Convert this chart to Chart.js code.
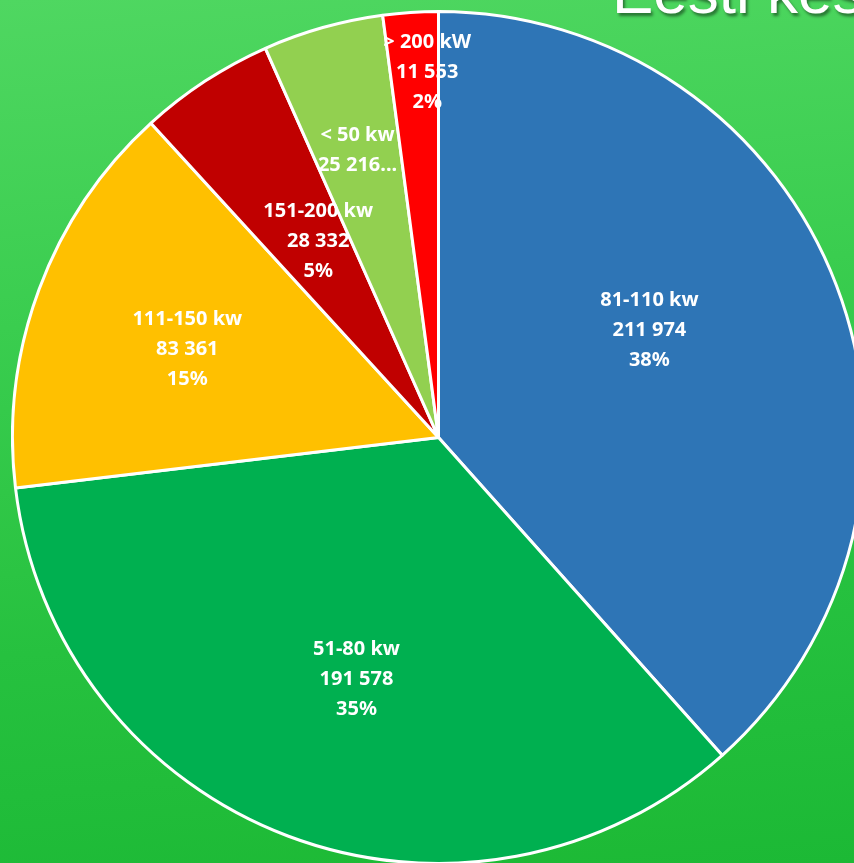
<!DOCTYPE html>
<html lang="et">
<head>
  <meta charset="UTF-8">
  <title>Võimsusklassid</title>
  <script src="https://cdn.jsdelivr.net/npm/chart.js@4"></script>
  <style>
    html, body { margin: 0; padding: 0; }
    body {
      width: 854px; height: 863px; overflow: hidden; position: relative;
      background: linear-gradient(175deg, #4fd761 0%, #3acd4f 35%, #26c13f 70%, #1cb935 100%);
    }
    #pealkiri {
      position: absolute; left: 612px; top: -44px; margin: 0;
      font: 62px "Liberation Sans", Arial, sans-serif; color: #fff;
      text-shadow: 2px 3px 3px rgba(0,0,0,0.45); white-space: nowrap;
    }
    #wrap { position: absolute; left: 11px; top: 10px; width: 855px; height: 855px; }
  </style>
</head>
<body>
  <h1 id="pealkiri">Eesti kes</h1>
  <div id="wrap"><canvas id="pie" width="855" height="855"></canvas></div>

  <script>
    const klassid = ['81-110 kw', '51-80 kw', '111-150 kw', '151-200 kw', '< 50 kw', '> 200 kW'];
    const kogused = [211974, 191578, 83361, 28332, 25216, 11553];
    const varvid = ['#2E75B6', '#00B050', '#FFC000', '#C00000', '#92D050', '#FF0000'];
    // label placement: share of radius and small turn (degrees) from slice middle
    const sildiKaugus = [0.555, 0.60, 0.625, 0.54, 0.70, 0.857];
    const sildiPoore = [-6, -2, -1, 1.7, 0, 2];

    const kokku = kogused.reduce((a, b) => a + b, 0);

    function arv(n) {
      return String(n).replace(/\B(?=(\d{3})+(?!\d))/g, ' ');
    }

    const sildid = {
      id: 'sildid',
      afterDatasetsDraw(chart) {
        const ctx = chart.ctx;
        const meta = chart.getDatasetMeta(0);
        ctx.save();
        ctx.fillStyle = '#fff';
        ctx.font = 'bold 20px "Noto Sans", "Open Sans", sans-serif';
        ctx.textAlign = 'center';
        ctx.textBaseline = 'middle';
        meta.data.forEach((arc, i) => {
          const p = arc.getProps(['x', 'y', 'startAngle', 'endAngle', 'outerRadius'], true);
          const mid = (p.startAngle + p.endAngle) / 2 + sildiPoore[i] * Math.PI / 180;
          const r = p.outerRadius * sildiKaugus[i];
          const x = p.x + Math.cos(mid) * r;
          const y = p.y + Math.sin(mid) * r;
          let read = [klassid[i], arv(kogused[i]), Math.round(kogused[i] / kokku * 100) + '%'];
          if (i === 4) read = [klassid[i], arv(kogused[i]) + '...'];
          const h = 30;
          const y0 = y - (read.length - 1) * h / 2;
          read.forEach((t, k) => ctx.fillText(t, x, y0 + k * h));
        });
        ctx.restore();
      }
    };

    new Chart(document.getElementById('pie'), {
      type: 'pie',
      data: {
        labels: klassid,
        datasets: [{
          data: kogused,
          backgroundColor: varvid,
          borderColor: '#ffffff',
          borderWidth: 3
        }]
      },
      options: {
        responsive: false,
        animation: false,
        layout: { padding: 0 },
        plugins: { legend: { display: false }, tooltip: { enabled: false } }
      },
      plugins: [sildid]
    });
  </script>
</body>
</html>
